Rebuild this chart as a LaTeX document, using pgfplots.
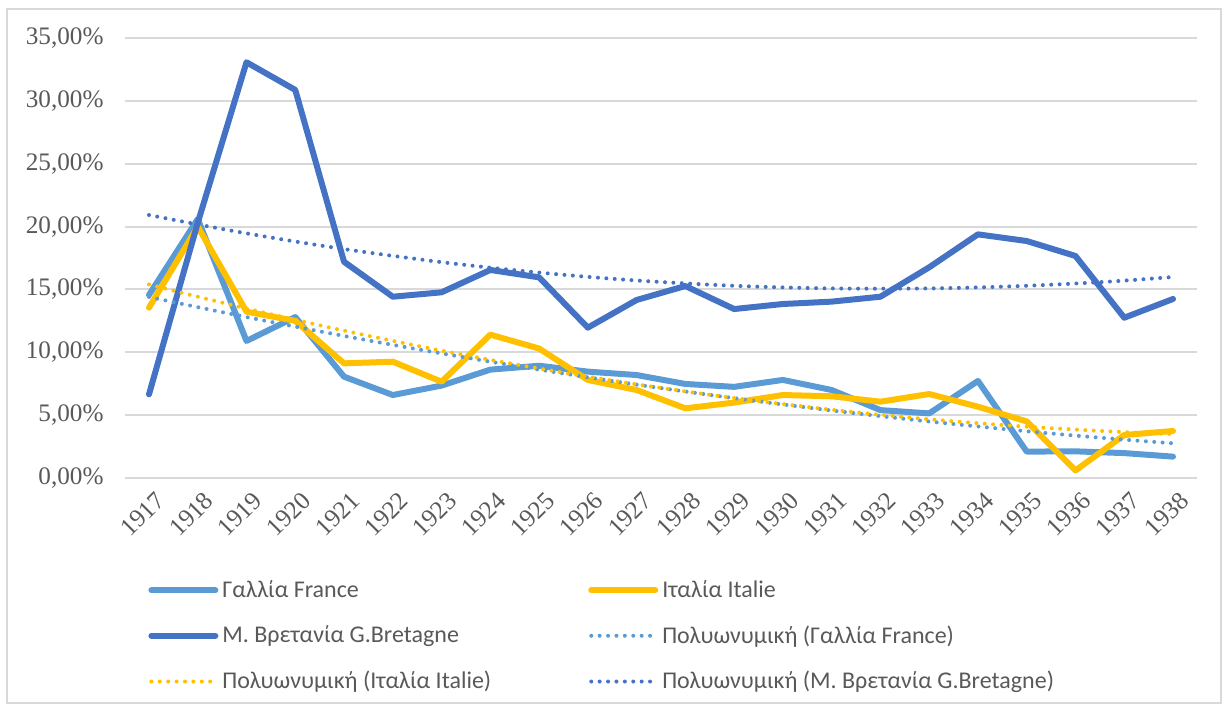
\documentclass[border=0pt]{standalone}
\usepackage{fontspec}
\setmainfont{Liberation Serif}
\newfontfamily\legfont{Carlito}
\usepackage{pgfplots}
\pgfplotsset{compat=1.18}
\definecolor{cFr}{HTML}{5B9BD5}
\definecolor{cIt}{HTML}{FFC000}
\definecolor{cGB}{HTML}{4472C4}
\definecolor{cGrid}{HTML}{D9D9D9}
\definecolor{cTxt}{HTML}{595959}
\pgfplotstableread{
year fr it gb
1917 14.56 13.55 6.65
1918 20.6 20.0 20.3
1919 10.9 13.23 33.07
1920 12.8 12.5 30.87
1921 8.06 9.12 17.2
1922 6.6 9.25 14.42
1923 7.35 7.66 14.77
1924 8.62 11.4 16.55
1925 8.93 10.3 15.96
1926 8.46 7.8 11.96
1927 8.19 7.0 14.16
1928 7.48 5.54 15.27
1929 7.25 6.0 13.44
1930 7.8 6.6 13.84
1931 7.0 6.5 14.03
1932 5.4 6.07 14.42
1933 5.14 6.68 16.76
1934 7.72 5.67 19.38
1935 2.1 4.5 18.85
1936 2.12 0.6 17.66
1937 1.98 3.42 12.75
1938 1.7 3.74 14.24
}\datatable
\pgfplotstableread{
year fr it gb
1917 14.40 15.40 20.92
1918 13.59 14.42 20.17
1919 12.80 13.48 19.46
1920 12.04 12.58 18.81
1921 11.30 11.72 18.21
1922 10.59 10.91 17.67
1923 9.91 10.13 17.17
1924 9.25 9.40 16.73
1925 8.62 8.71 16.34
1926 8.01 8.06 16.00
1927 7.43 7.45 15.71
1928 6.88 6.89 15.48
1929 6.35 6.36 15.29
1930 5.85 5.88 15.16
1931 5.37 5.43 15.08
1932 4.92 5.03 15.06
1933 4.49 4.67 15.08
1934 4.10 4.36 15.16
1935 3.72 4.08 15.29
1936 3.37 3.85 15.47
1937 3.05 3.65 15.70
1938 2.76 3.50 15.99
}\trendtable
\begin{document}
\begin{tikzpicture}[x=1pt,y=1pt]
\useasboundingbox (0,0) rectangle (613,353);
\draw[cGrid, line width=0.8pt] (3.5,1.5) rectangle (610.5,348.5);
\begin{axis}[
  at={(62.3pt,114pt)}, anchor=south west, scale only axis,
  width=536.4pt, height=220pt,
  xmin=1916.5, xmax=1938.5, ymin=0, ymax=35,
  axis line style={draw=none}, tick style={draw=none},
  ymajorgrids, grid style={cGrid, line width=1pt},
  ytick={0,5,...,35},
  xtick={1917,...,1938},
  /pgf/number format/assume math mode=true,
  xticklabel style={/pgf/number format/1000 sep={}, rotate=45, anchor=east, yshift=-10.5pt, xshift=1pt, font=\fontsize{12.6}{14}\selectfont, text=cTxt},
  yticklabel={\pgfmathprintnumber[fixed,fixed zerofill,precision=2,use comma]{\tick}\%},
  yticklabel style={font=\fontsize{12.6}{14}\selectfont, text=cTxt, xshift=-7pt},
  legend columns=2,
  legend style={draw=none, fill=none, at={(0.0218,-0.2227)}, anchor=north west, inner sep=0pt,
    font=\legfont\fontsize{12}{14}\selectfont, text=cTxt,
    /tikz/every even column/.append style={column sep=46.5pt},
    row sep=8.6pt},
  legend cell align=left,
  legend image code/.code={\draw[#1] (0pt,0pt) -- (32pt,0pt);},
  every axis plot/.append style={line join=round, line cap=round},
]
\addplot[cFr, line width=3pt] table[x=year,y=fr] {\datatable};
\addlegendentry{Γαλλία France}
\addplot[cIt, line width=3pt] table[x=year,y=it] {\datatable};
\addlegendentry{Ιταλία Italie}
\addplot[cGB, line width=3pt] table[x=year,y=gb] {\datatable};
\addlegendentry{Μ. Βρετανία G.Bretagne}
\addplot[cFr, line width=2pt, dash pattern=on 0pt off 4.2pt, smooth] table[x=year,y=fr] {\trendtable};
\addlegendentry{Πολυωνυμική (Γαλλία France)}
\addplot[cIt, line width=2pt, dash pattern=on 0pt off 4.2pt, smooth] table[x=year,y=it] {\trendtable};
\addlegendentry{Πολυωνυμική (Ιταλία Italie)}
\addplot[cGB, line width=2pt, dash pattern=on 0pt off 4.2pt, smooth] table[x=year,y=gb] {\trendtable};
\addlegendentry{Πολυωνυμική (Μ. Βρετανία G.Bretagne)}
\end{axis}
\end{tikzpicture}
\end{document}
